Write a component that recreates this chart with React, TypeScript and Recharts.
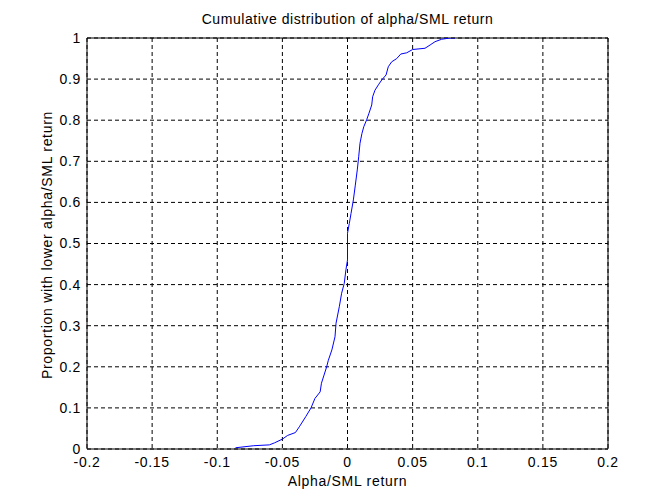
import React from "react";
import { LineChart, Line, XAxis, YAxis, CartesianGrid, ReferenceLine } from "recharts";

const returnValues = [
  -0.086, -0.072, -0.06, -0.056, -0.05, -0.046, -0.04, -0.037, -0.032, -0.028,
  -0.025, -0.021, -0.02, -0.018, -0.016, -0.0147, -0.012, -0.0096, -0.0088, -0.0063,
  -0.0045, -0.0025, -0.0012, 0, 0, 0.0014, 0.0027, 0.0045, 0.006, 0.0075,
  0.0086, 0.0096, 0.0111, 0.0125, 0.0147, 0.0165, 0.0186, 0.0193, 0.0211, 0.0237,
  0.0263, 0.0296, 0.0313, 0.0339, 0.0378, 0.0409, 0.0455, 0.05, 0.0595, 0.0634,
  0.0672, 0.0723, 0.0787, 0.0825,
];
const proportions = [
  0.003, 0.008, 0.01, 0.015, 0.024, 0.033, 0.04, 0.054, 0.079, 0.1,
  0.123, 0.139, 0.16, 0.18, 0.2, 0.216, 0.241, 0.273, 0.306, 0.346,
  0.379, 0.403, 0.436, 0.46, 0.525, 0.549, 0.573, 0.606, 0.642, 0.679,
  0.711, 0.744, 0.768, 0.784, 0.801, 0.817, 0.837, 0.857, 0.873, 0.886,
  0.898, 0.91, 0.93, 0.942, 0.95, 0.961, 0.964, 0.972, 0.975, 0.983,
  0.991, 0.997, 1.0, 1.0,
];
const xTicks = [-0.2, -0.15, -0.1, -0.05, 0, 0.05, 0.1, 0.15, 0.2];
const yTicks = [0, 0.1, 0.2, 0.3, 0.4, 0.5, 0.6, 0.7, 0.8, 0.9, 1];

const titleText = "Cumulative distribution of alpha/SML return";
const xLabelText = "Alpha/SML return";
const yLabelText = "Proportion with lower alpha/SML return";

const data = returnValues.map((x, i) => ({ x, p: proportions[i] }));

const FONT = "'Liberation Sans', Arial, sans-serif";
const tickStyle = { fontFamily: FONT, fontSize: 14, fill: "#000", letterSpacing: "0.7px" };

export default function App() {
  return (
    <div style={{ position: "absolute", left: 0, top: 0, width: 672, height: 504, background: "#fff", fontFamily: FONT }}>
      <LineChart
        width={672}
        height={504}
        data={data}
        margin={{ top: 38, right: 64, left: 0, bottom: 0 }}
      >
        <CartesianGrid stroke="#000" strokeDasharray="4 3" strokeWidth={1} horizontalValues={yTicks} verticalValues={xTicks} />
        <XAxis
          dataKey="x"
          type="number"
          domain={[-0.2, 0.2]}
          ticks={xTicks}
          tickFormatter={(v: number) => String(v)}
          tickLine={false}
          tickSize={0}
          tickMargin={8}
          height={55}
          axisLine={{ stroke: "#000" }}
          tick={tickStyle}
          allowDataOverflow
        />
        <YAxis
          type="number"
          domain={[0, 1]}
          ticks={yTicks}
          tickFormatter={(v: number) => String(v)}
          tickLine={false}
          tickSize={0}
          tickMargin={6}
          width={87}
          axisLine={{ stroke: "#000" }}
          tick={tickStyle}
          allowDataOverflow
        />
        <ReferenceLine y={1} stroke="#000" strokeWidth={1} />
        <ReferenceLine x={0.2} stroke="#000" strokeWidth={1} />
        <Line
          type="linear"
          dataKey="p"
          stroke="#0000ff"
          strokeWidth={1}
          dot={false}
          isAnimationActive={false}
        />
      </LineChart>
      <div style={{ position: "absolute", left: 87, width: 521, top: 11, textAlign: "center", fontSize: 14, letterSpacing: "0.55px", lineHeight: "16px", color: "#000" }}>
        {titleText}
      </div>
      <div style={{ position: "absolute", left: 87, width: 521, top: 473, textAlign: "center", fontSize: 14, letterSpacing: "0.7px", lineHeight: "16px", color: "#000" }}>
        {xLabelText}
      </div>
      <div
        style={{
          position: "absolute",
          left: 47 - 170,
          top: 245 - 8,
          width: 340,
          textAlign: "center",
          fontSize: 14,
          letterSpacing: "0.7px",
          lineHeight: "16px",
          color: "#000",
          transform: "rotate(-90deg)",
          transformOrigin: "50% 50%",
        }}
      >
        {yLabelText}
      </div>
    </div>
  );
}
